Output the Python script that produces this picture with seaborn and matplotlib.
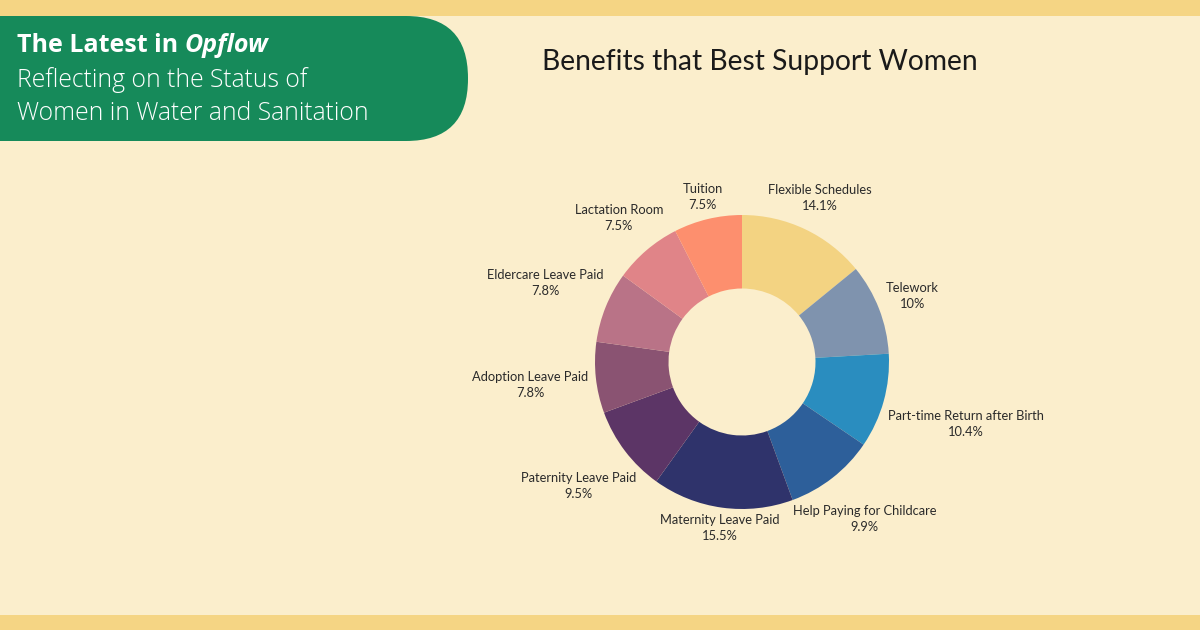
import numpy as np
import matplotlib.pyplot as plt
import seaborn as sns
from matplotlib.patches import FancyBboxPatch, Rectangle

# Survey shares, clockwise from 12 o'clock
benefits = ['Flexible Schedules', 'Telework', 'Part-time Return after Birth',
            'Help Paying for Childcare', 'Maternity Leave Paid', 'Paternity Leave Paid',
            'Adoption Leave Paid', 'Eldercare Leave Paid', 'Lactation Room', 'Tuition']
shares = [14.1, 10, 10.4, 9.9, 15.5, 9.5, 7.8, 7.8, 7.5, 7.5]
slice_colors = ['#F3D382', '#7F93AE', '#2A8DBF', '#2D5F9A', '#2F336B',
                '#5C3566', '#8A5372', '#B97387', '#E08488', '#FD8F6E']

BG = '#FBEECC'
BAR = '#F5D584'
GREEN = '#168A5A'

sns.set_theme(style="white")
plt.rcParams['font.family'] = ['Lato', 'DejaVu Sans']
palette = sns.color_palette(slice_colors)

fig = plt.figure(figsize=(12, 6.3), dpi=100)
fig.patch.set_facecolor(BG)

# Background layer in pixel coordinates
bg = fig.add_axes([0, 0, 1, 1])
bg.set_xlim(0, 1200)
bg.set_ylim(630, 0)
bg.axis('off')
bg.add_patch(Rectangle((0, 0), 1200, 16, color=BAR, lw=0))
bg.add_patch(Rectangle((0, 615), 1200, 15, color=BAR, lw=0))
bg.add_patch(FancyBboxPatch((-120, 16), 588, 125, boxstyle="round,pad=0,rounding_size=62",
                            color=GREEN, lw=0))

# Header text
fig.canvas.draw()
renderer = fig.canvas.get_renderer()
head = bg.text(17, 46, "The Latest in ", color='white', fontsize=18, fontweight='bold',
               family=['Open Sans', 'DejaVu Sans'], va='center', ha='left')
hb = head.get_window_extent(renderer)
hx = bg.transData.inverted().transform((hb.x1, hb.y0))[0]
bg.text(hx, 46, "Opflow", color='white', fontsize=18, fontweight='bold', style='italic',
        family=['Open Sans', 'DejaVu Sans'], va='center', ha='left')
bg.text(17, 80, "Reflecting on the Status of", color='white', fontsize=17.8, fontweight='light',
        family=['Open Sans', 'DejaVu Sans'], va='center', ha='left')
bg.text(17, 114, "Women in Water and Sanitation", color='white', fontsize=17.8, fontweight='light',
        family=['Open Sans', 'DejaVu Sans'], va='center', ha='left')

# Chart title
bg.text(760, 62, "Benefits that Best Support Women", color='#1a1a1a', fontsize=20.3,
        ha='center', va='center')

# Donut
R_PX = 147
cx, cy = 742, 630 - 362
half = 220
ax = fig.add_axes([(cx - half) / 1200, (cy - half) / 630, 2 * half / 1200, 2 * half / 630])
wedges, _ = ax.pie(shares, colors=palette, startangle=90, counterclock=False, radius=1,
                   wedgeprops=dict(width=0.5, linewidth=0))
ax.set_xlim(-half / R_PX, half / R_PX)
ax.set_ylim(-half / R_PX, half / R_PX)
ax.axis('off')

# Labels: centre on the slice's mid-angle ray, pushed out until the
# nearest edge of the text box clears a ring just outside the donut
fig.canvas.draw()
renderer = fig.canvas.get_renderer()
ring = 154  # px
ox, oy = ax.transData.transform((0, 0))
for w, name, val in zip(wedges, benefits, shares):
    ang = np.deg2rad((w.theta1 + w.theta2) / 2)
    c, s = np.cos(ang), np.sin(ang)
    txt = ax.text(0, 0, f"{name}\n{val:g}%", ha='center', va='center',
                  fontsize=9.3, linespacing=1.4, color='#2a2a2a')
    bb = txt.get_window_extent(renderer)
    hw, hh = bb.width / 2, (bb.height - 4) / 2
    lo, hi = 0.0, 500.0
    for _ in range(40):
        t = (lo + hi) / 2
        dx = max(abs(t * c) - hw, 0)
        dy = max(abs(t * s) - hh, 0)
        if np.hypot(dx, dy) < ring:
            lo = t
        else:
            hi = t
    txt.set_position(ax.transData.inverted().transform((ox + hi * c, oy + hi * s)))

fig.savefig('out.png', dpi=100, facecolor=BG)
